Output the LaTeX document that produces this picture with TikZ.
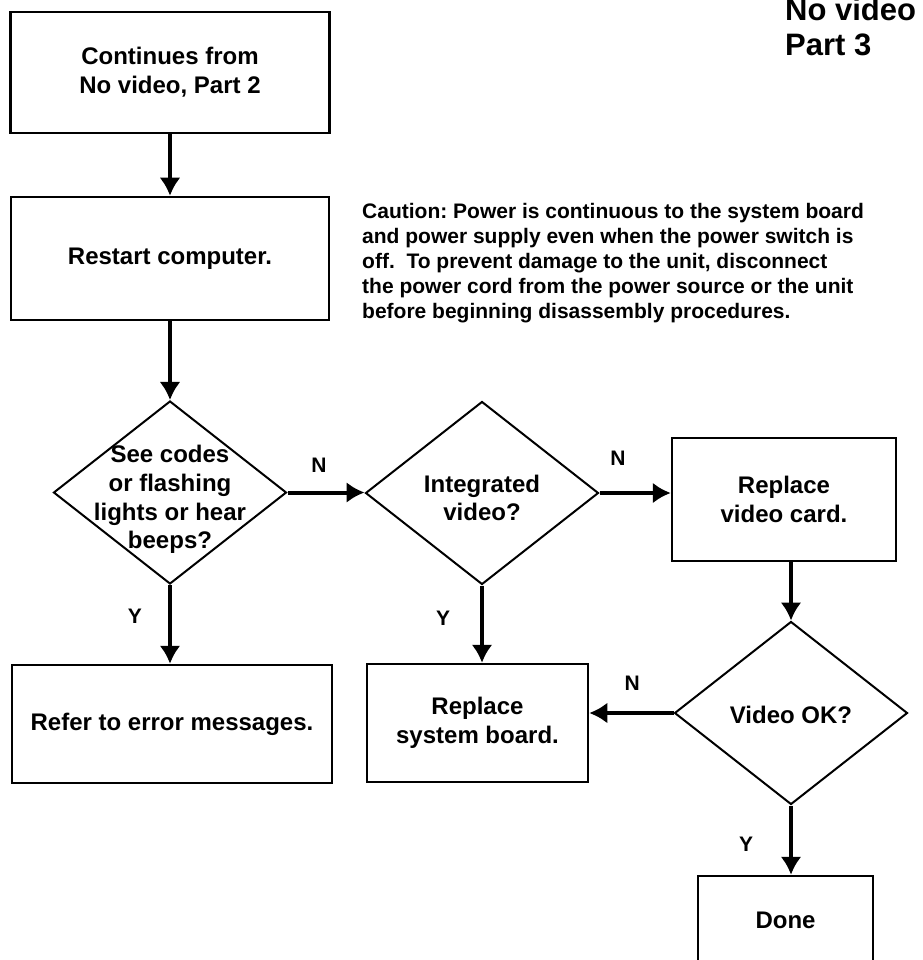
\documentclass[tikz,border=0pt]{standalone}
\usepackage{fontspec}
\setmainfont{Liberation Sans}
\usetikzlibrary{arrows.meta,positioning,shapes.geometric}
\frenchspacing

\begin{document}
\begin{tikzpicture}[x=1pt,y=1pt,>={Latex[length=18pt,width=21pt]},
  box/.style={draw,line width=2.5pt,align=center,inner sep=0pt,font=\fontsize{24}{28.7}\bfseries\selectfont},
  decision/.style={draw,diamond,line width=2pt,inner sep=0pt,minimum width=233pt,minimum height=183pt},
  dtext/.style={align=center,inner sep=0pt,font=\fontsize{24}{28.7}\bfseries\selectfont},
  flow/.style={->,line width=4pt},
  yn/.style={inner sep=0pt,font=\fontsize{21}{25}\bfseries\selectfont}]
\useasboundingbox (0,0) rectangle (922,-960);

\node[anchor=north west,align=left,inner sep=0pt,font=\fontsize{31}{35}\bfseries\selectfont] (ttl) at (785,2.6) {No video\\Part 3};
\node[anchor=north west,align=left,inner sep=0pt,font=\fontsize{21}{25}\bfseries\selectfont] (caution) at (362,-202.7)
  {Caution: Power is continuous to the system board\\and power supply even when the power switch is\\off.\ \ To prevent damage to the unit, disconnect\\the power cord from the power source or the unit\\before beginning disassembly procedures.};

\node[box,minimum width=319pt,minimum height=121pt] (start) at (170,-72.5) {Continues from\\No video, Part 2};
\node[box,minimum width=318pt,minimum height=123pt] (restart) at (170,-258.5) {Restart computer.};
\node[decision,label={[dtext,yshift=-7pt]center:See codes\\or flashing\\lights or hear\\beeps?}] (codes) at (170,-492.5) {};
\node[decision,label={[dtext,yshift=-5pt]center:Integrated\\video?}] (integ) at (482,-493) {};
\node[box,minimum width=224pt,minimum height=123pt] (vcard) at (784,-499.5) {Replace\\video card.};
\node[decision,label={[dtext,yshift=-2pt]center:Video OK?}] (vidok) at (791,-713) {};
\node[box,minimum width=221pt,minimum height=118pt] (sysbd) at (477.5,-723) {Replace\\system board.};
\node[box,minimum width=320pt,minimum height=118pt] (refer) at (172,-724) {Refer to error messages.};
\node[box,minimum width=175pt,minimum height=88pt] (done) at (785.5,-920) {Done};

\draw[flow] (start) -- (restart);
\draw[flow] (restart) -- (codes);
\draw[flow] (codes.east) -- node[yn,pos=.41,above=18pt] {N} (codes.east -| integ.west);
\draw[flow] (integ.east) -- node[yn,pos=.26,above=26pt] {N} (integ.east -| vcard.west);
\draw[flow] (vcard.south -| vidok.north) -- (vidok.north);
\draw[flow] (vidok.west) -- node[yn,pos=.49,above=21pt] {N} (vidok.west -| sysbd.east);
\draw[flow] (codes.south) -- node[yn,pos=.4,left=26pt] {Y} (codes.south |- refer.north);
\draw[flow] (integ.south) -- node[yn,pos=.42,left=30pt] {Y} (integ.south |- sysbd.north);
\draw[flow] (vidok.south) -- node[yn,pos=.56,left=36pt] {Y} (vidok.south |- done.north);
\end{tikzpicture}
\end{document}
